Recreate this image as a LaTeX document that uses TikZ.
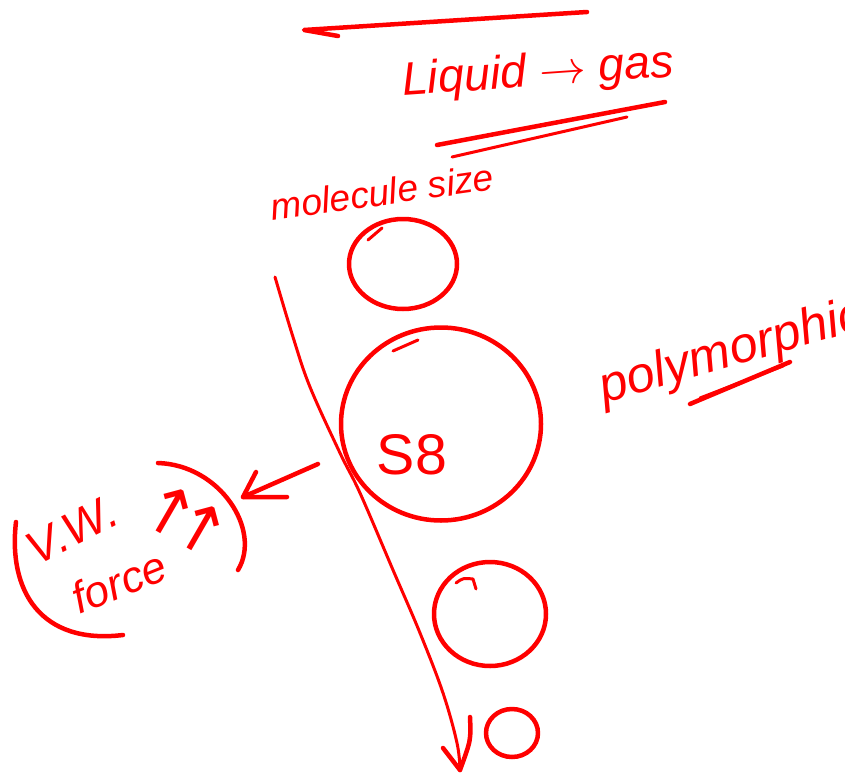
\documentclass[tikz,border=0pt]{standalone}
\usepackage{fontspec}
\setmainfont{Liberation Sans}
\newfontfamily\arrowfont{DejaVu Sans}
\usetikzlibrary{shapes.geometric}
\definecolor{ink}{RGB}{255,0,0}
\begin{document}
\begin{tikzpicture}[x=1pt,y=-1pt,
  pen/.style={draw=ink, line width=4.5pt, line cap=round, line join=round},
  finepen/.style={draw=ink, line width=3pt, line cap=round, line join=round},
  blob/.style={pen, ellipse, inner sep=0pt, outer sep=0pt},
  hand/.style={text=ink, inner sep=0pt, font=\itshape}]
\clip (0,0) rectangle (845,773);
\fill[white] (0,0) rectangle (845,773);

% top rule with hook
\coordinate (t1) at (587,12);
\coordinate (t2) at (304,30);
\coordinate (t3) at (338,36);
\draw[pen] (t1) -- (t2) -- (t3);

% title
\node[hand, rotate=4] (title) at (538,74) {\resizebox{272pt}{!}{Liquid $\rightarrow$ gas}};

% double underline
\coordinate (u1a) at (437,145);
\coordinate (u1b) at (665,102);
\coordinate (u2a) at (452,157);
\coordinate (u2b) at (627,117);
\draw[pen] (u1a) -- (u1b);
\draw[finepen] (u2a) -- (u2b);

% molecule size
\node[hand, rotate=8] (msize) at (382,192) {\resizebox{225pt}{!}{molecule size}};

% circles
\node[blob, minimum width=108pt, minimum height=90pt] (c1) at (403,264) {};
\node[blob, minimum width=200pt, minimum height=193pt] (c2) at (441,424) {};
\node[blob, minimum width=112pt, minimum height=104pt] (c3) at (490,614) {};
\node[blob, minimum width=52pt, minimum height=48pt] (c4) at (512,733) {};

% small hooks on circles
\coordinate (h2a) at (393,351);
\coordinate (h2b) at (418,340);
\draw[finepen] (h2a) -- (h2b);
\coordinate (h3a) at (456,583);
\coordinate (h3b) at (473,579);
\coordinate (h3c) at (476,589);
\draw[finepen] (h3a) .. controls (463,578) .. (h3b) -- (h3c);
\coordinate (h1a) at (368,240);
\coordinate (h1b) at (382,228);
\draw[finepen] (h1a) -- (h1b);

% S8
\node[hand, font=\normalfont] (s8) at (412,455) {\resizebox{!}{40pt}{S8}};

% long descending arrow
\coordinate (la) at (275,277);
\coordinate (lz) at (460,770);
\draw[finepen] plot[smooth, tension=0.6] coordinates {(la) (293,337) (310,387) (340,453) (360,493) (393,570) (420,633) (443,693) (457,743) (lz)};
\coordinate (lb1) at (443,748);
\coordinate (lb2) at (470,717);
\draw[pen] (lb1) -- (lz);
\draw[pen] (lb2) .. controls (471,740) .. (lz);

% left arrow
\coordinate (ar1) at (318,464);
\coordinate (ar2) at (243,497);
\coordinate (ab1) at (256,472);
\coordinate (ab2) at (287,497);
\draw[pen] (ar1) -- (ar2);
\draw[pen] (ab1) -- (ar2) -- (ab2);

% brackets around V.W. force
\coordinate (lp1) at (16,522);
\coordinate (lp2) at (123,635);
\draw[pen] (lp1) .. controls (8,590) and (40,645) .. (lp2);
\coordinate (rp1) at (158,463);
\coordinate (rp2) at (238,570);
\draw[pen] (rp1) .. controls (220,465) and (262,530) .. (rp2);

% V.W. force
\node[hand, rotate=27] (vw) at (72,530) {\resizebox{96pt}{!}{V.W.}};
\node[hand, rotate=22] (force) at (119,582) {\resizebox{98pt}{!}{force}};
\node[text=ink, inner sep=0pt, rotate=-30, font={\arrowfont\fontsize{66}{66}\selectfont}] (up) at (186,520) {↑\kern-20pt↑};

% polymorphic
\node[hand, rotate=16] (poly) at (732,353) {\resizebox{272pt}{!}{polymorphic}};
\coordinate (p1a) at (690,404);
\coordinate (p1b) at (790,362);
\coordinate (p2a) at (700,398);
\coordinate (p2b) at (783,366);
\draw[pen] (p1a) -- (p1b);
\draw[finepen] (p2a) -- (p2b);
\end{tikzpicture}
\end{document}
